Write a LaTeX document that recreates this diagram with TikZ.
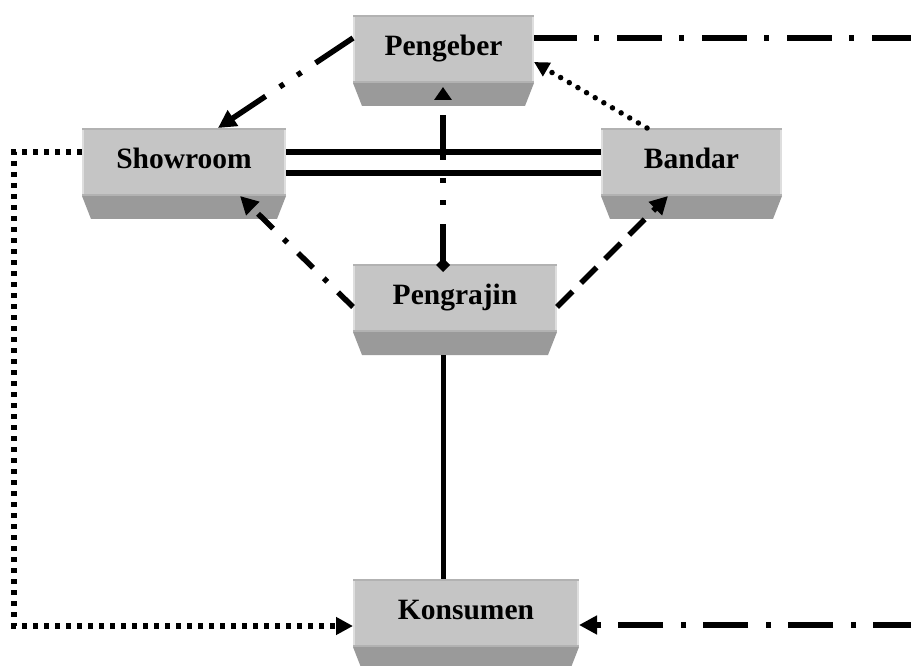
\documentclass[tikz,border=0pt]{standalone}
\usepackage{fontspec}
\setmainfont{Liberation Serif}
\usetikzlibrary{arrows.meta}
\definecolor{facegray}{RGB}{197,197,197}
\definecolor{bevelgray}{RGB}{154,154,154}
\definecolor{edgelight}{RGB}{222,222,222}
\definecolor{edgedark}{RGB}{178,178,178}
\tikzset{
  facebox/.style={rectangle, fill=facegray, inner sep=0pt, outer sep=0pt,
    minimum height=68pt, text height=13.5pt, text depth=0pt,
    font=\fontsize{29.5}{34}\selectfont\bfseries},
  conn/.style={line width=5.5pt, black},
  tri/.style={-{Triangle[length=18pt,width=18pt]}},
  dashdot/.style={dash pattern=on 45pt off 17pt on 5pt off 18pt},
  dashdotdot/.style={dash pattern=on 45pt off 17pt on 5pt off 16pt on 5pt off 17pt},
  shortdashdot/.style={dash pattern=on 21pt off 15pt on 5pt off 15pt},
  dashline/.style={dash pattern=on 22pt off 12pt},
  squaredots/.style={line width=5.5pt, dash pattern=on 5pt off 6pt},
  rounddots/.style={line width=5.5pt, line cap=round, dash pattern=on 0pt off 10pt}
}
\begin{document}
\begin{tikzpicture}[x=1pt,y=-1pt]
\useasboundingbox (0,0) rectangle (911,666);
\clip (0,0) rectangle (911,666);
% boxes
\node[facebox, minimum width=181pt] (pg) at (443.5,49) {Pengeber};
\node[facebox, minimum width=204pt] (sr) at (184,162) {Showroom};
\node[facebox, minimum width=181pt] (bd) at (691.5,162) {Bandar};
\node[facebox, minimum width=204pt] (pj) at (455,298) {Pengrajin};
\node[facebox, minimum width=226pt] (ks) at (466,613) {Konsumen};
\foreach \n in {pg,sr,bd,pj,ks}{
  \fill[bevelgray] (\n.south west) -- (\n.south east)
    -- ([xshift=-9pt,yshift=-23pt]\n.south east)
    -- ([xshift=9pt,yshift=-23pt]\n.south west) -- cycle;
  \fill[edgelight] (\n.north west) rectangle ([xshift=2pt]\n.south west);
  \fill[edgelight] ([xshift=-2pt]\n.north east) rectangle (\n.south east);
  \fill[edgedark] (\n.north west) rectangle ([yshift=-2pt]\n.north east);
  \fill[edgedark] ([yshift=2pt]\n.south west) rectangle (\n.south east);
}
% free ends
\coordinate (rtop) at (911,38);
\coordinate (rbot) at (911,625);
\coordinate (lc1) at (14,152);
\coordinate (lc2) at (14,626);
% Pengeber -> Showroom
\draw[conn, tri, dashdotdot] ([yshift=11pt]pg.west) -- ([xshift=34pt]sr.north);
% Pengeber -> right edge
\draw[conn, dashdot, dash phase=2pt] ([yshift=11pt]pg.east) -- (rtop);
% right edge -> Konsumen
\draw[conn, tri, dashdot, dash phase=7pt] (rbot) -- ([yshift=-12pt]ks.east);
% Bandar -> Pengeber
\draw[rounddots, -{Triangle[length=15pt,width=15pt]}] ([xshift=-44.5pt]bd.north) -- ([yshift=-13pt]pg.east);
% double line Showroom -- Bandar
\draw[conn] ([yshift=10pt]sr.east) -- ([yshift=10pt]bd.west);
\draw[conn] ([yshift=-11pt]sr.east) -- ([yshift=-11pt]bd.west);
% Pengrajin -> Pengeber
\draw[conn, {Diamond[length=14pt,width=14pt]}-{Triangle[length=13pt,width=17pt]},
  dash pattern=on 38pt off 19pt on 5pt off 17pt on 5pt off 18pt on 45pt off 40pt]
  ([xshift=-12pt,yshift=-8pt]pj.north) -- ([xshift=-0.5pt,yshift=-4pt]pg.south);
% Pengrajin -> Showroom
\draw[conn, tri, shortdashdot] ([yshift=-9pt]pj.west) -- ([xshift=56pt]sr.south);
% Pengrajin -> Bandar
\draw[conn, tri, dashline] ([yshift=-9pt]pj.east) -- ([xshift=-23.5pt]bd.south);
% Pengrajin -- Konsumen
\draw[line width=5pt] ([xshift=-12pt,yshift=-23pt]pj.south) -- ([xshift=-23pt]ks.north);
% Showroom -> Konsumen
\draw[squaredots, -{Triangle[length=17pt,width=17pt]}] ([yshift=10pt]sr.west) -- (lc1) -- (lc2) -- ([yshift=-13pt]ks.west);
\end{tikzpicture}
\end{document}
